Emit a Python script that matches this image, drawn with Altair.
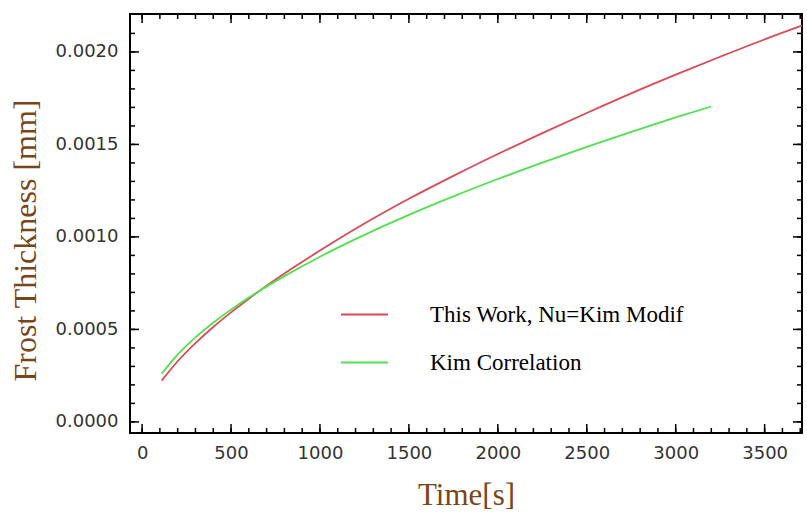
import altair as alt
import pandas as pd

# ---- data ----
time_red = [110, 200, 300, 400, 500, 600, 800, 1000, 1250, 1500, 1750, 2000,
            2250, 2500, 2750, 3000, 3250, 3500, 3710]
thick_red = [0.000223, 0.000328, 0.000426, 0.000513, 0.000592, 0.000666, 0.000802,
             0.000926, 0.001072, 0.001206, 0.001330, 0.001448, 0.001561, 0.001670,
             0.001776, 0.001877, 0.001974, 0.002068, 0.002142]

time_green = [110, 200, 300, 400, 500, 600, 800, 1000, 1250, 1500, 1750, 2000,
              2250, 2500, 2750, 3000, 3200]
thick_green = [0.000261, 0.000364, 0.000457, 0.000536, 0.000607, 0.000672, 0.000788,
               0.000893, 0.001011, 0.001119, 0.001219, 0.001313, 0.001402, 0.001487,
               0.001568, 0.001646, 0.001705]

series_names = ["This Work, Nu=Kim Modif", "Kim Correlation"]
series_colors = ["#dc4b55", "#4fe24f"]

x_major = [0, 500, 1000, 1500, 2000, 2500, 3000, 3500]
x_minor = [0, 100, 200, 300, 400, 500, 600, 700, 800, 900, 1000, 1100, 1200, 1300,
           1400, 1500, 1600, 1700, 1800, 1900, 2000, 2100, 2200, 2300, 2400, 2500,
           2600, 2700, 2800, 2900, 3000, 3100, 3200, 3300, 3400, 3500, 3600, 3700]
y_major = [0.0, 0.0005, 0.0010, 0.0015, 0.0020]
y_minor = [0.0, 0.0001, 0.0002, 0.0003, 0.0004, 0.0005, 0.0006, 0.0007, 0.0008,
           0.0009, 0.0010, 0.0011, 0.0012, 0.0013, 0.0014, 0.0015, 0.0016, 0.0017,
           0.0018, 0.0019, 0.0020, 0.0021]

x_domain = [-68, 3710]
y_domain = [-0.00006, 0.002205]

W, H = 672, 419

df = pd.concat([
    pd.DataFrame({"t": time_red, "v": thick_red, "series": series_names[0]}),
    pd.DataFrame({"t": time_green, "v": thick_green, "series": series_names[1]}),
])

xs = alt.Scale(domain=x_domain, nice=False, zero=False)
ys = alt.Scale(domain=y_domain, nice=False, zero=False)

title_color = "#7a4518"
lab_font = "DejaVu Sans"
lab_color = "#333333"

x_axis = alt.Axis(values=x_major, format="d", ticks=False, domain=False, grid=False,
                  labelFont=lab_font, labelFontSize=18, labelColor=lab_color,
                  labelPadding=11, title="Time[s]", titleFont="Liberation Serif",
                  titleFontSize=31, titleFontWeight="normal", titleColor=title_color,
                  titleX=W / 2, titleY=62, titleBaseline="middle", titleAlign="center")
y_axis = alt.Axis(values=y_major, format=".4f", ticks=False, domain=False, grid=False,
                  labelFont=lab_font, labelFontSize=18, labelColor=lab_color,
                  labelPadding=12, title="Frost Thickness [mm]",
                  titleFont="Liberation Serif", titleFontSize=32,
                  titleFontWeight="normal", titleColor=title_color,
                  titleX=-105, titleY=226, titleBaseline="middle", titleAlign="center",
                  titleAngle=270)

lines = alt.Chart(df).mark_line(strokeWidth=1.8, interpolate="monotone").encode(
    x=alt.X("t:Q", scale=xs, axis=x_axis),
    y=alt.Y("v:Q", scale=ys, axis=y_axis),
    color=alt.Color("series:N",
                    scale=alt.Scale(domain=series_names, range=series_colors),
                    sort=series_names,
                    legend=alt.Legend(orient="none", legendX=210, legendY=276, title=None,
                                      symbolType="stroke", symbolSize=2209,
                                      symbolStrokeWidth=2, labelFont="Liberation Serif",
                                      labelFontSize=23, labelColor="black", labelOffset=41,
                                      rowPadding=11, padding=0, labelLimit=400)),
    detail="series:N",
)


def xticks(vals, length, top):
    d = pd.DataFrame({"t": vals})
    return alt.Chart(d).mark_rule(color="black", strokeWidth=1.5).encode(
        x=alt.X("t:Q", scale=xs, axis=x_axis),
        y=alt.value(0 if top else H),
        y2=alt.value(length if top else H - length),
    )


def yticks(vals, length, right):
    d = pd.DataFrame({"v": vals})
    return alt.Chart(d).mark_rule(color="black", strokeWidth=1.5).encode(
        y=alt.Y("v:Q", scale=ys, axis=y_axis),
        x=alt.value(W if right else 0),
        x2=alt.value(W - length if right else length),
    )


layers = [
    lines,
    xticks(x_minor, 5, False), xticks(x_major, 9, False),
    xticks(x_minor, 5, True), xticks(x_major, 9, True),
    yticks(y_minor, 5, False), yticks(y_major, 9, False),
    yticks(y_minor, 5, True), yticks(y_major, 9, True),
]

chart = alt.layer(*layers).properties(
    width=W, height=H,
    autosize=alt.AutoSizeParams(type="none"),
    padding={"left": 130, "top": 14, "right": 5, "bottom": 82},
    background="white",
).configure_view(stroke="black", strokeWidth=2)

chart.save("out.html", embed_options={"renderer": "svg", "actions": False})
